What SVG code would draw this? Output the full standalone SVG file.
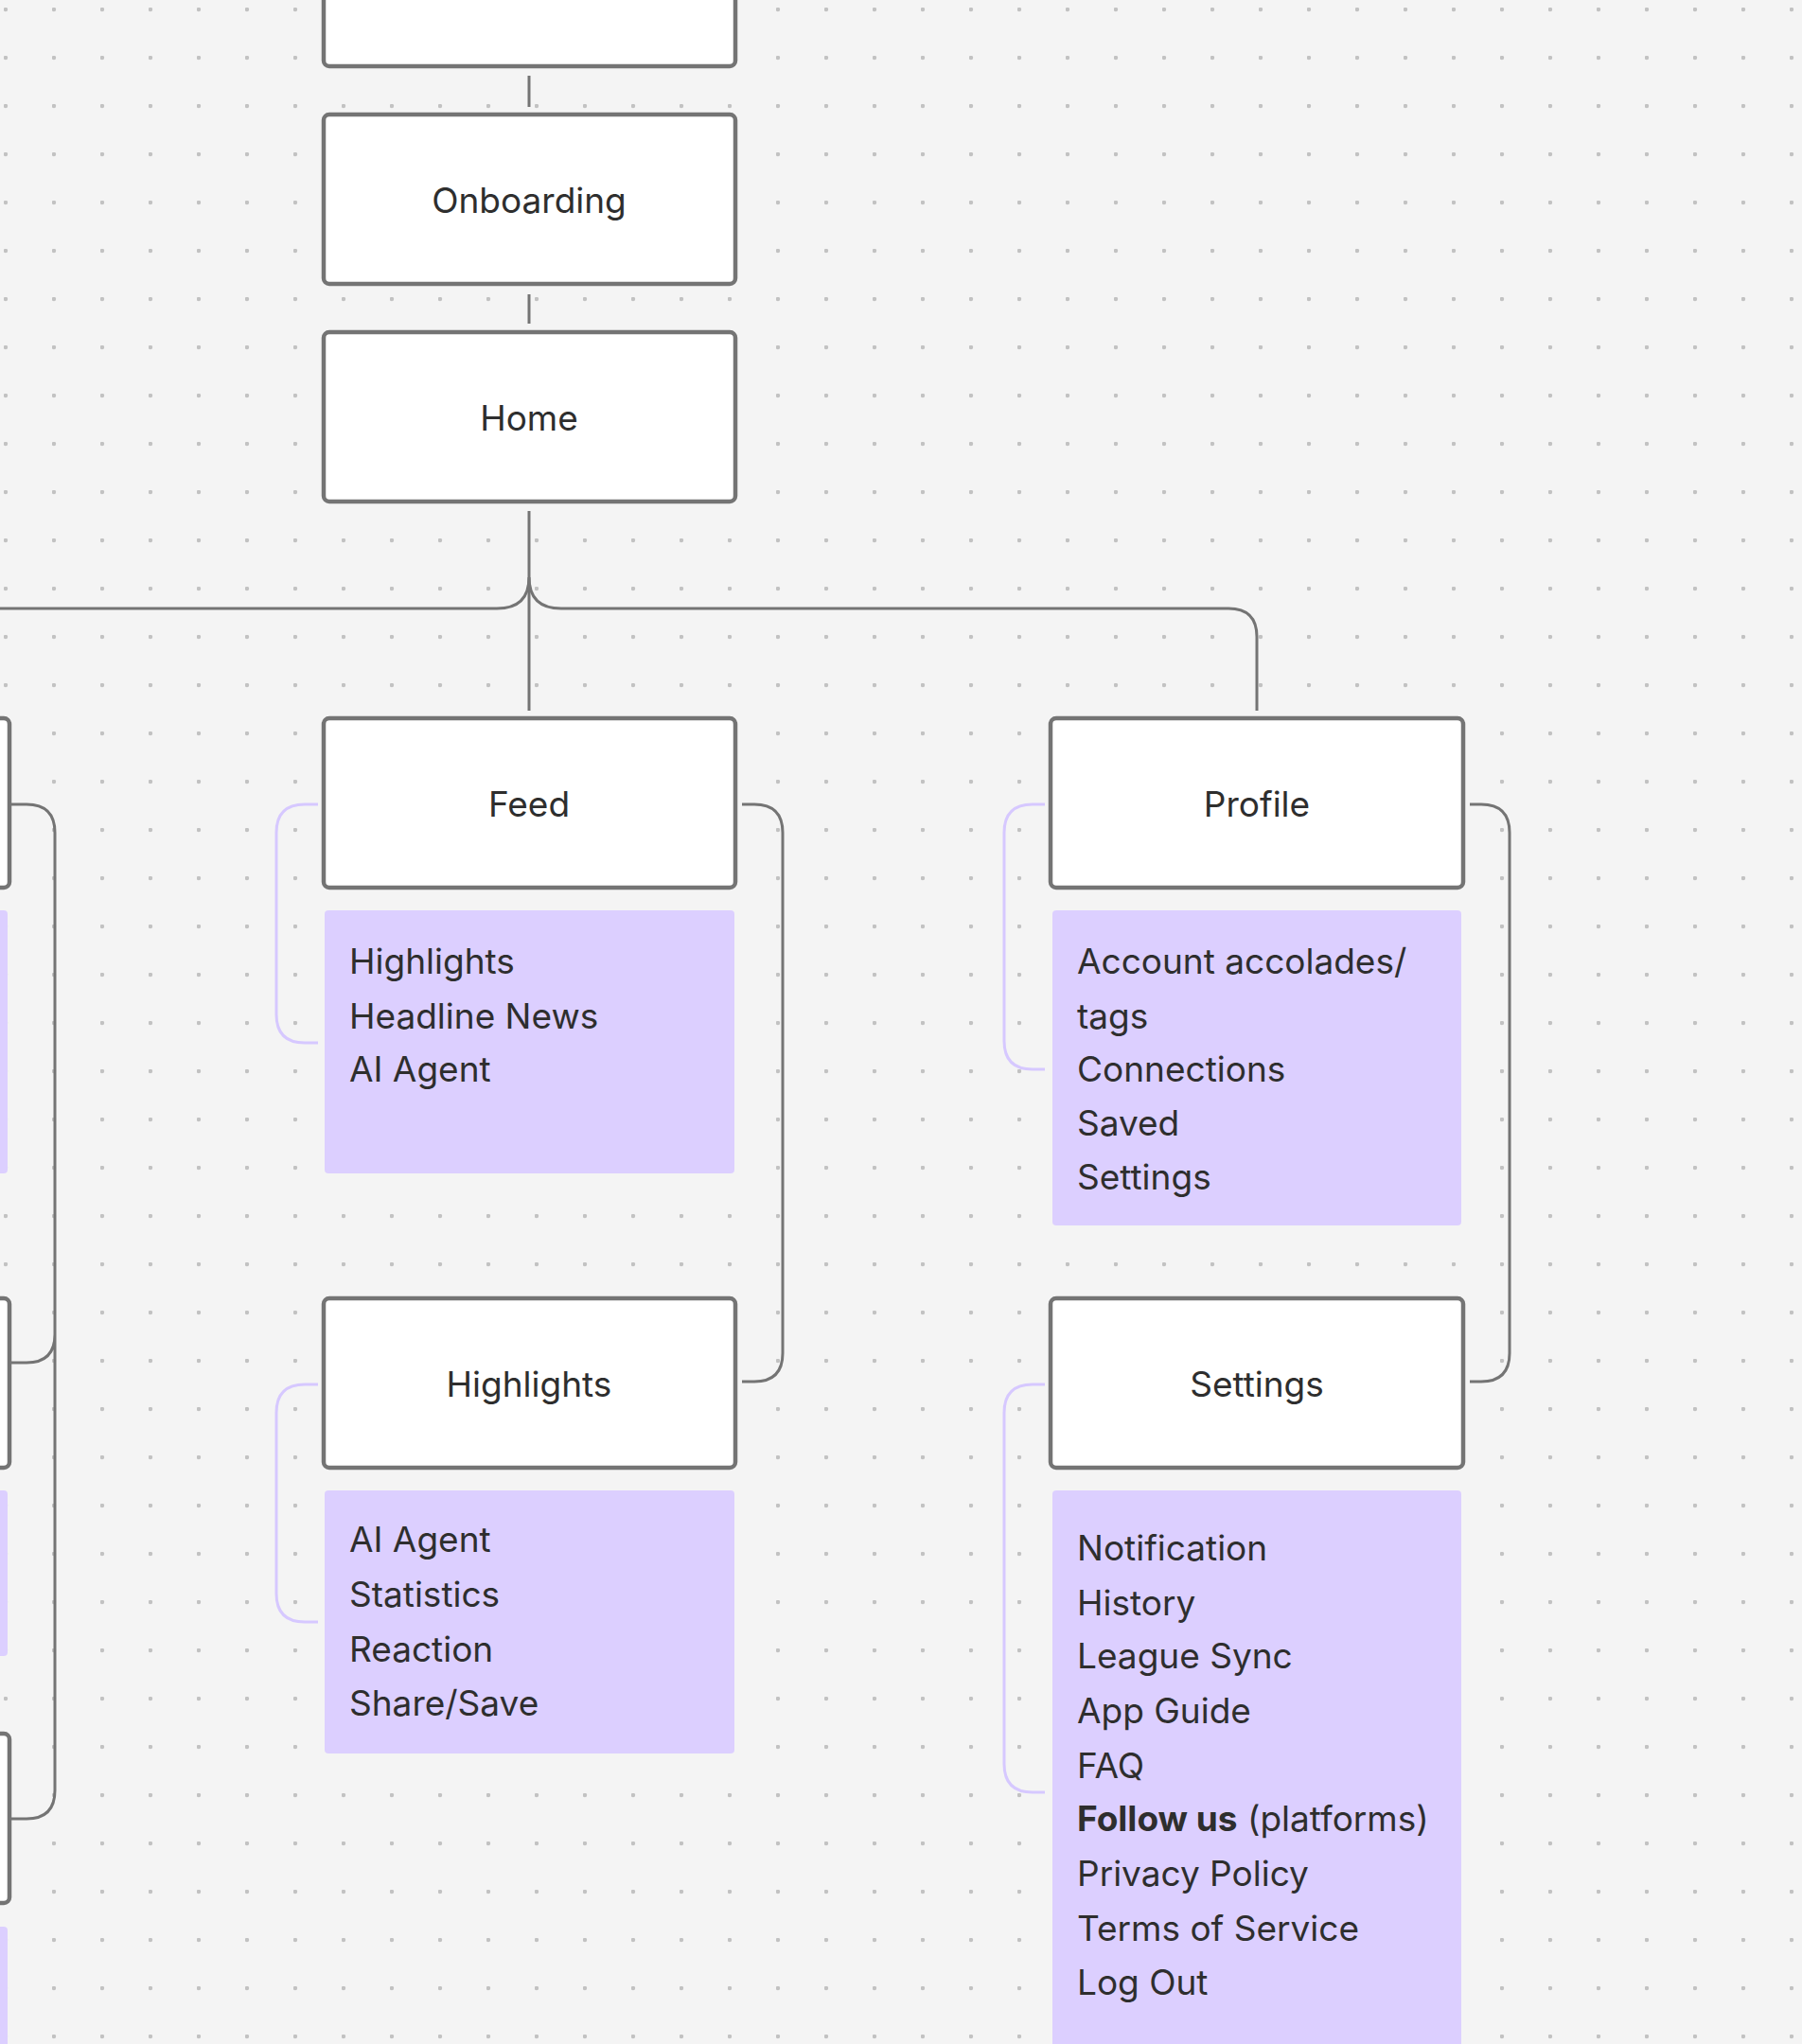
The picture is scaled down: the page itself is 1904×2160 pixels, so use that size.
<svg xmlns="http://www.w3.org/2000/svg" width="1904" height="2160" viewBox="0 0 1904 2160">
<defs>
<pattern id="dots" width="51" height="51" patternUnits="userSpaceOnUse" x="4" y="8"><circle cx="2" cy="2" r="2.2" fill="#c2c2c2"/></pattern>
<style>
.box{fill:#fff;stroke:#747474;stroke-width:4.5}
.list{fill:#dccfff}
.t{font-family:Inter,"Noto Sans",sans-serif;font-size:37px;fill:#2e2e2e}
.c{text-anchor:middle}
.g{fill:none;stroke:#747474;stroke-width:3}
.l{fill:none;stroke:#d6c8ff;stroke-width:3}
</style>
</defs>
<rect width="1904" height="2160" fill="#f4f4f4"/>
<rect width="1904" height="2160" fill="url(#dots)"/>
<g id="connectors">
<path class="g" d="M559 80V113M559 311V342M559 540V751"/>
<path class="g" d="M0 643H525Q559 643 559 610Q559 643 593 643H1298Q1328 643 1328 673V751"/>
<path class="g" d="M784 850H797Q827 850 827 880V1430Q827 1460 797 1460H784"/>
<path class="g" d="M1553 850H1565Q1595 850 1595 880V1430Q1595 1460 1565 1460H1553"/>
<path class="g" d="M12 850H28Q58 850 58 880V1892Q58 1922 28 1922H12M58 1410Q58 1440 28 1440H12"/>
<path class="l" d="M336 850H322Q292 850 292 880V1072Q292 1102 322 1102H336"/>
<path class="l" d="M336 1463H322Q292 1463 292 1493V1684Q292 1714 322 1714H336"/>
<path class="l" d="M1104 850H1091Q1061 850 1061 880V1100Q1061 1130 1091 1130H1104"/>
<path class="l" d="M1104 1463H1091Q1061 1463 1061 1493V1864Q1061 1894 1091 1894H1104"/>
</g>
<g id="left-partial">
<rect class="box" x="-40" y="759" width="50" height="179" rx="6"/>
<rect class="list" x="-40" y="962" width="48" height="278" rx="4"/>
<rect class="box" x="-40" y="1372" width="50" height="179" rx="6"/>
<rect class="list" x="-40" y="1575" width="48" height="175" rx="4"/>
<rect class="box" x="-40" y="1832" width="50" height="179" rx="6"/>
<rect class="list" x="-40" y="2036" width="48" height="140" rx="4"/>
</g>
<g id="top"><rect class="box" x="342" y="-40" width="435" height="110" rx="6"/></g>
<g id="onboarding"><rect class="box" x="342" y="121" width="435" height="179" rx="6"/><text class="t c" x="559" y="225">Onboarding</text></g>
<g id="home"><rect class="box" x="342" y="351" width="435" height="179" rx="6"/><text class="t c" x="559" y="455">Home</text></g>
<g id="feed"><rect class="box" x="342" y="759" width="435" height="179" rx="6"/><text class="t c" x="559" y="863">Feed</text>
<rect class="list" x="343" y="962" width="433" height="278" rx="4"/>
<text class="t" x="369" y="1029">Highlights</text><text class="t" x="369" y="1087">Headline News</text><text class="t" x="369" y="1143">AI Agent</text></g>
<g id="highlights"><rect class="box" x="342" y="1372" width="435" height="179" rx="6"/><text class="t c" x="559" y="1476">Highlights</text>
<rect class="list" x="343" y="1575" width="433" height="278" rx="4"/>
<text class="t" x="369" y="1640">AI Agent</text><text class="t" x="369" y="1698">Statistics</text><text class="t" x="369" y="1756">Reaction</text><text class="t" x="369" y="1813">Share/Save</text></g>
<g id="profile"><rect class="box" x="1110" y="759" width="436" height="179" rx="6"/><text class="t c" x="1328" y="863">Profile</text>
<rect class="list" x="1112" y="962" width="432" height="333" rx="4"/>
<text class="t" x="1138" y="1029">Account accolades/</text><text class="t" x="1138" y="1087">tags</text><text class="t" x="1138" y="1143">Connections</text><text class="t" x="1138" y="1200">Saved</text><text class="t" x="1138" y="1257">Settings</text></g>
<g id="settings"><rect class="box" x="1110" y="1372" width="436" height="179" rx="6"/><text class="t c" x="1328" y="1476">Settings</text>
<rect class="list" x="1112" y="1575" width="432" height="620" rx="4"/>
<text class="t" x="1138" y="1649">Notification</text><text class="t" x="1138" y="1707">History</text><text class="t" x="1138" y="1763">League Sync</text><text class="t" x="1138" y="1821">App Guide</text><text class="t" x="1138" y="1879">FAQ</text><text class="t" x="1138" y="1935"><tspan font-weight="bold">Follow us</tspan> (platforms)</text><text class="t" x="1138" y="1993">Privacy Policy</text><text class="t" x="1138" y="2051">Terms of Service</text><text class="t" x="1138" y="2108">Log Out</text></g>
</svg>
